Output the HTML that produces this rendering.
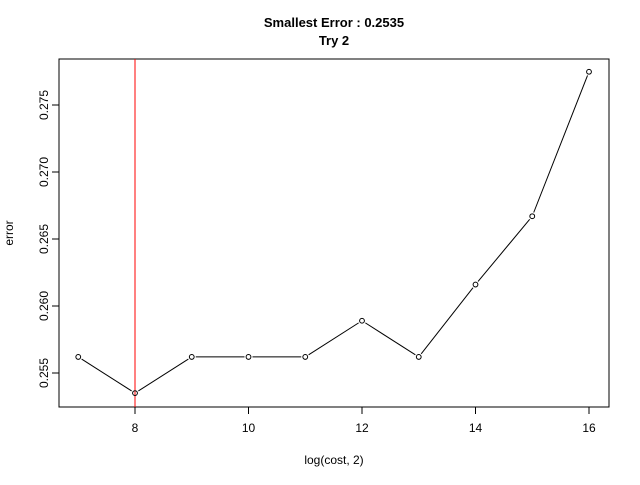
<!DOCTYPE html>
<html><head><meta charset="utf-8"><style>
body{margin:0;background:#fff;font-family:"Liberation Sans",Arial,sans-serif}
</style></head><body>
<svg width="640" height="480" xmlns="http://www.w3.org/2000/svg" font-family="Liberation Sans, Arial, sans-serif">
<rect width="640" height="480" fill="#fff"/>
<text x="334" y="27" font-size="13" font-weight="bold" text-anchor="middle">Smallest Error : 0.2535</text>
<text x="334" y="45" font-size="13" font-weight="bold" text-anchor="middle">Try 2</text>
<rect x="59" y="59" width="550" height="348" fill="none" stroke="#000"/>
<g id="xaxis"></g>
<g id="yaxis"></g>
<text x="334" y="464" font-size="12" text-anchor="middle">log(cost, 2)</text>
<text transform="translate(13,233) rotate(-90)" font-size="12" text-anchor="middle">error</text>
<g id="marks"></g>
</svg>
<script>
const xs=[7,8,9,10,11,12,13,14,15,16];
const errors=[0.2562,0.2535,0.2562,0.2562,0.2562,0.2589,0.2562,0.2616,0.2667,0.27748];
const xTicks=[8,10,12,14,16];
const yTicks=[0.255,0.260,0.265,0.270,0.275];
const yTickLabels=["0.255","0.260","0.265","0.270","0.275"];
const bestX=8;
const NS="http://www.w3.org/2000/svg";
function X(v){return 135+(v-8)*56.75;}
function Y(v){return 373-(v-0.255)*13400;}
function mk(t,a,p){const e=document.createElementNS(NS,t);for(const k in a)e.setAttribute(k,a[k]);p.appendChild(e);return e;}
const xa=document.getElementById('xaxis'),ya=document.getElementById('yaxis'),m=document.getElementById('marks');
xTicks.forEach(v=>{
 const l=mk('line',{x1:X(v),x2:X(v),y1:407,y2:414,stroke:'#000'},xa);
 
 
 const t=mk('text',{x:X(v),y:432,'font-size':12,'text-anchor':'middle'},xa);t.textContent=v;
 
 
});
yTicks.forEach((v,i)=>{
 const l=mk('line',{x1:52,x2:59,y1:Y(v),y2:Y(v),stroke:'#000'},ya);
 
 
 const t=mk('text',{transform:`translate(48,${Y(v)}) rotate(-90)`,'font-size':12,'text-anchor':'middle'},ya);t.textContent=yTickLabels[i];
 
 
});
const vl=mk('line',{x1:X(bestX),x2:X(bestX),y1:59,y2:407,stroke:'#f00'},m);


for(let i=0;i<xs.length-1;i++){
 const dx=X(xs[i+1])-X(xs[i]),dy=Y(errors[i+1])-Y(errors[i]),d=Math.hypot(dx,dy),r=4/d;
 const s=mk('line',{x1:X(xs[i])+dx*r,y1:Y(errors[i])+dy*r,x2:X(xs[i+1])-dx*r,y2:Y(errors[i+1])-dy*r,stroke:'#000'},m);
 
 
}
xs.forEach((x,i)=>{
 const c=mk('circle',{cx:X(x),cy:Y(errors[i]),r:2.4,fill:'none',stroke:'#000'},m);
 
 
});
</script>
</body></html>
